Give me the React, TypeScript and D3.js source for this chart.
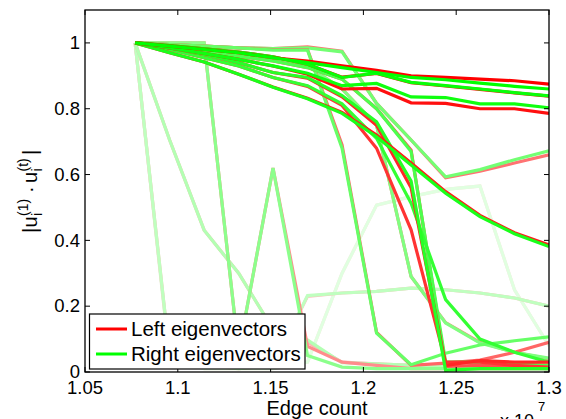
import React from "react";
import * as d3 from "d3";

// Edge count (x 10^7)
const edgeCounts = [1.077, 1.0956, 1.1142, 1.1328, 1.1513, 1.1699, 1.1885, 1.2071, 1.2257, 1.2443, 1.2628, 1.2814, 1.3];

const xTicks = [1.05, 1.1, 1.15, 1.2, 1.25, 1.3];
const xTickLabels = ["1.05", "1.1", "1.15", "1.2", "1.25", "1.3"];
const yTicks = [0, 0.2, 0.4, 0.6, 0.8, 1];
const yTickLabels = ["0", "0.2", "0.4", "0.6", "0.8", "1"];

// eigenvector similarity series, left (red) and right (green)
const left1 = [1, 0.99, 0.98, 0.97, 0.955, 0.945, 0.93, 0.917, 0.9, 0.895, 0.89, 0.885, 0.875];
const right1 = [1, 0.99, 0.98, 0.97, 0.955, 0.94, 0.925, 0.91, 0.895, 0.888, 0.878, 0.868, 0.86];
const left2 = [1, 0.992, 0.982, 0.972, 0.958, 0.935, 0.896, 0.907, 0.879, 0.869, 0.859, 0.848, 0.838];
const right2 = [1, 0.992, 0.982, 0.972, 0.958, 0.935, 0.895, 0.908, 0.88, 0.87, 0.86, 0.849, 0.839];
const left3 = [1, 0.985, 0.968, 0.95, 0.93, 0.905, 0.86, 0.862, 0.818, 0.816, 0.8, 0.8, 0.786];
const right3 = [1, 0.985, 0.968, 0.95, 0.93, 0.908, 0.87, 0.877, 0.836, 0.834, 0.815, 0.815, 0.803];
const left4 = [1, 0.97, 0.942, 0.905, 0.866, 0.832, 0.789, 0.72, 0.635, 0.548, 0.476, 0.423, 0.386];
const right4 = [1, 0.97, 0.942, 0.905, 0.865, 0.83, 0.786, 0.715, 0.629, 0.543, 0.472, 0.42, 0.381];
const left5 = [1, 0.985, 0.965, 0.94, 0.91, 0.893, 0.836, 0.75, 0.56, 0.02, 0.035, 0.03, 0.03];
const right5 = [1, 0.985, 0.965, 0.94, 0.91, 0.895, 0.84, 0.76, 0.58, 0.005, 0.01, 0.01, 0.01];
const left6 = [1, 0.98, 0.955, 0.93, 0.895, 0.868, 0.81, 0.68, 0.432, 0.03, 0.03, 0.02, 0.015];
const right6 = [1, 0.98, 0.955, 0.93, 0.895, 0.87, 0.815, 0.71, 0.513, 0.22, 0.1, 0.06, 0.03];
const left7 = [1, 0.99, 0.975, 0.96, 0.945, 0.925, 0.89, 0.8, 0.674, 0.017, 0.02, 0.02, 0.02];
const right7 = [1, 0.99, 0.975, 0.96, 0.945, 0.925, 0.89, 0.8, 0.67, 0.03, 0.03, 0.025, 0.02];
const left8 = [1, 0.995, 0.99, 0.985, 0.98, 0.98, 0.69, 0.12, 0.02, 0.027, 0.036, 0.06, 0.09];
const right8 = [1, 0.995, 0.99, 0.985, 0.978, 0.978, 0.68, 0.118, 0.022, 0.057, 0.082, 0.095, 0.107];
const left9 = [1, 0.995, 0.99, 0.985, 0.983, 0.988, 0.975, 0.816, 0.705, 0.59, 0.61, 0.635, 0.66];
const right9 = [1, 0.995, 0.99, 0.985, 0.983, 0.985, 0.973, 0.816, 0.705, 0.593, 0.615, 0.645, 0.672];
const left10 = [1, 0.99, 0.98, 0.965, 0.95, 0.93, 0.86, 0.75, 0.29, 0.15, 0.09, 0.06, 0.04];
const right10 = [1, 0.99, 0.98, 0.965, 0.95, 0.93, 0.86, 0.75, 0.29, 0.149, 0.088, 0.06, 0.042];
const left11 = [1, 1, 1, 0.06, 0.62, 0.078, 0.03, 0.02, 0.01, 0.01, 0.01, 0.01, 0.01];
const right11 = [1, 1, 1, 0.06, 0.62, 0.05, 0.015, 0.01, 0.01, 0.01, 0.01, 0.01, 0.01];
const left12 = [1, 0.705, 0.431, 0.3, 0.13, 0.09, 0.03, 0.025, 0.02, 0.02, 0.015, 0.015, 0.01];
const right12 = [1, 0.705, 0.431, 0.3, 0.13, 0.097, 0.028, 0.025, 0.02, 0.02, 0.015, 0.015, 0.01];
const left13 = [1, 0.05, 0.02, 0.01, 0.02, 0.23, 0.24, 0.245, 0.255, 0.25, 0.24, 0.225, 0.2];
const right13 = [1, 0.05, 0.02, 0.01, 0.02, 0.232, 0.24, 0.245, 0.255, 0.25, 0.24, 0.225, 0.2];
const left14 = [1, 0.04, 0.01, 0.01, 0.01, 0.03, 0.3, 0.507, 0.533, 0.555, 0.565, 0.25, 0.08];
const right14 = [1, 0.04, 0.01, 0.01, 0.01, 0.03, 0.3, 0.507, 0.533, 0.555, 0.565, 0.25, 0.08];

const leftSeries = [left1, left2, left3, left4, left5, left6, left7, left8, left9, left10, left11, left12, left13, left14];
const rightSeries = [right1, right2, right3, right4, right5, right6, right7, right8, right9, right10, right11, right12, right13, right14];
// how much each pair is faded toward white (style)
const fades = [0, 0.03, 0.06, 0.1, 0.15, 0.2, 0.3, 0.4, 0.45, 0.5, 0.55, 0.7, 0.75, 0.88];

const FONT = "'Liberation Sans', Arial, Helvetica, sans-serif";

export default function App() {
  const W = 566, H = 419;
  const x = d3.scaleLinear().domain([1.05, 1.3]).range([85, 549]);
  const y = d3.scaleLinear().domain([0, 1.1]).range([372, 10]);
  const line = d3.line<number>().x((_, i) => x(edgeCounts[i])).y((d) => y(d));
  const redAt = (f: number) => d3.interpolateRgb("#ff0000", "#ffffff")(f);
  const greenAt = (f: number) => d3.interpolateRgb("#00ff00", "#ffffff")(f);
  const order = d3.range(leftSeries.length).reverse();
  const [x0, x1] = x.range();
  const [yb, yt] = y.range();
  const tl = 5;

  return (
    <svg width={W} height={H} style={{ position: "absolute", left: 0, top: 0, background: "#fff" }} fontFamily={FONT}>
      <defs>
        <clipPath id="plotclip">
          <rect x={x0} y={yt} width={x1 - x0} height={yb - yt} />
        </clipPath>
      </defs>
      <rect x={0} y={0} width={W} height={H} fill="#fff" />
      <g clipPath="url(#plotclip)" fill="none" strokeWidth={3.2} strokeLinejoin="miter" strokeLinecap="butt">
        {order.map((k) => (
          <g key={k}>
            <path d={line(leftSeries[k]) || ""} stroke={redAt(fades[k])} />
            <path d={line(rightSeries[k]) || ""} stroke={greenAt(fades[k])} />
          </g>
        ))}
      </g>
      {/* axes box */}
      <rect x={x0} y={yt} width={x1 - x0} height={yb - yt} fill="none" stroke="#000" strokeWidth={1.3} />
      {xTicks.map((t, i) => (
        <g key={"xt" + i}>
          <line x1={x(t)} x2={x(t)} y1={yb} y2={yb - tl} stroke="#000" />
          <line x1={x(t)} x2={x(t)} y1={yt} y2={yt + tl} stroke="#000" />
          <text x={x(t)} y={394} textAnchor="middle" fontSize={18.5} fill="#000">{xTickLabels[i]}</text>
        </g>
      ))}
      {yTicks.map((t, i) => (
        <g key={"yt" + i}>
          <line x1={x0} x2={x0 + tl} y1={y(t)} y2={y(t)} stroke="#000" />
          <line x1={x1} x2={x1 - tl} y1={y(t)} y2={y(t)} stroke="#000" />
          <text x={80} y={y(t) + 6.3} textAnchor="end" fontSize={18.5} fill="#000">{yTickLabels[i]}</text>
        </g>
      ))}
      {/* x label */}
      <text x={317} y={415} textAnchor="middle" fontSize={20} fill="#000">Edge count</text>
      <text x={500} y={427} fontSize={18} fill="#000">x 10</text>
      <text x={538} y={411} fontSize={13} fill="#000">7</text>
      {/* y label */}
      <g transform="translate(37,233) rotate(-90)" fill="#000">
        <text x={0} y={0} fontSize={20}>|</text>
        <text x={5.5} y={0} fontSize={20}>u</text>
        <text x={17} y={5} fontSize={14}>i</text>
        <text x={17} y={-9} fontSize={14}>(1)</text>
        <text x={40} y={0} fontSize={20}>·</text>
        <text x={50} y={0} fontSize={20}>u</text>
        <text x={61.5} y={5} fontSize={14}>i</text>
        <text x={61.5} y={-9} fontSize={14}>(t)</text>
        <text x={78} y={0} fontSize={20}>|</text>
      </g>
      {/* legend */}
      <rect x={89.5} y={314} width={215.5} height={55} fill="#fff" stroke="#000" strokeWidth={1.2} />
      <line x1={96} x2={127} y1={329} y2={329} stroke="#ff0000" strokeWidth={3} />
      <line x1={96} x2={127} y1={354} y2={354} stroke="#00ff00" strokeWidth={3} />
      <text x={131} y={336} fontSize={20.5} fill="#000">Left eigenvectors</text>
      <text x={131} y={360.5} fontSize={20.5} fill="#000">Right eigenvectors</text>
    </svg>
  );
}
